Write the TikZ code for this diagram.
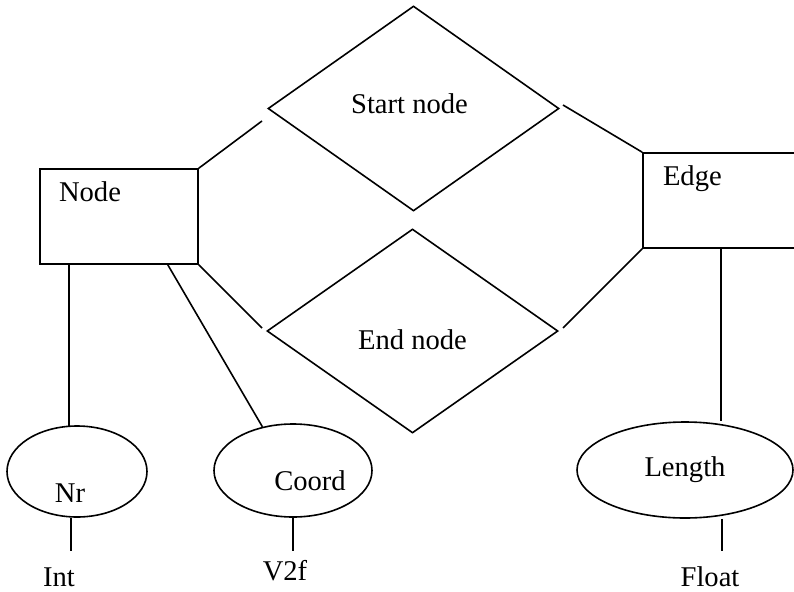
\documentclass[tikz,border=0pt]{standalone}
\usepackage{fontspec}
\setmainfont{Liberation Serif}
\usetikzlibrary{shapes.geometric}
\begin{document}
\begin{tikzpicture}[x=1pt,y=-1pt,line width=1.6pt,
  font=\fontsize{28.6}{34}\selectfont,
  entity/.style={draw,rectangle,inner sep=0pt},
  relation/.style={draw,diamond,inner sep=0pt},
  attrib/.style={draw,ellipse,inner sep=0pt},
  dtype/.style={inner sep=0pt,anchor=base}]
\useasboundingbox (0,0) rectangle (794,591);
\clip (0,0) rectangle (794,591);
% entities
\node[entity,minimum width=158pt,minimum height=95pt,
  label={[anchor=north west,inner sep=0pt,xshift=19pt,yshift=-12.5pt]north west:Node}] (node) at (119,216.5) {};
\node[entity,minimum width=167pt,minimum height=95pt,
  label={[anchor=north west,inner sep=0pt,xshift=20pt,yshift=-12.5pt]north west:Edge}] (edge) at (726.5,200.5) {};
% relations
\node[relation,minimum width=291pt,minimum height=205pt,
  label={[inner sep=0pt,xshift=-4pt,yshift=5pt]center:Start node}] (start) at (413.5,108.5) {};
\node[relation,minimum width=291pt,minimum height=204pt,
  label={[inner sep=0pt,yshift=-9pt]center:End node}] (end) at (412.5,331) {};
% attributes
\node[attrib,minimum width=140pt,minimum height=91pt,
  label={[inner sep=0pt,xshift=-7pt,yshift=-21.5pt]center:Nr}] (nr) at (77,471.5) {};
\node[attrib,minimum width=158pt,minimum height=93pt,
  label={[inner sep=0pt,xshift=17pt,yshift=-10.5pt]center:Coord}] (coord) at (293,470.5) {};
\node[attrib,minimum width=216pt,minimum height=96pt] (len) at (685,470) {Length};
% types
\node[dtype] (int) at (59,586) {Int};
\node[dtype] (vtwo) at (285,580) {V2f};
\node[dtype] (float) at (710,586) {Float};
% loose ends
\coordinate (s1) at (262,121);
\coordinate (s2) at (563,105);
\coordinate (e1) at (262,328);
\coordinate (e2) at (563,328);
\coordinate (t1) at (71,551);
\coordinate (t2) at (293,551);
\coordinate (t3) at (722,551);
% connectors
\draw (node.north east)--(s1) (s2)--(edge.north west);
\draw (node.south east)--(e1) (e2)--(edge.south west);
\draw (nr.100 |- node.south)--(nr.100);
\draw ([xshift=-31pt]node.south east)--(coord.125);
\draw ([xshift=79pt]edge.south west)--([xshift=79pt]edge.south west |- len.north);
\draw (t1 |- nr.south)--(t1) (t2 |- coord.south)--(t2) (t3 |- len.south)--(t3);
\end{tikzpicture}
\end{document}
